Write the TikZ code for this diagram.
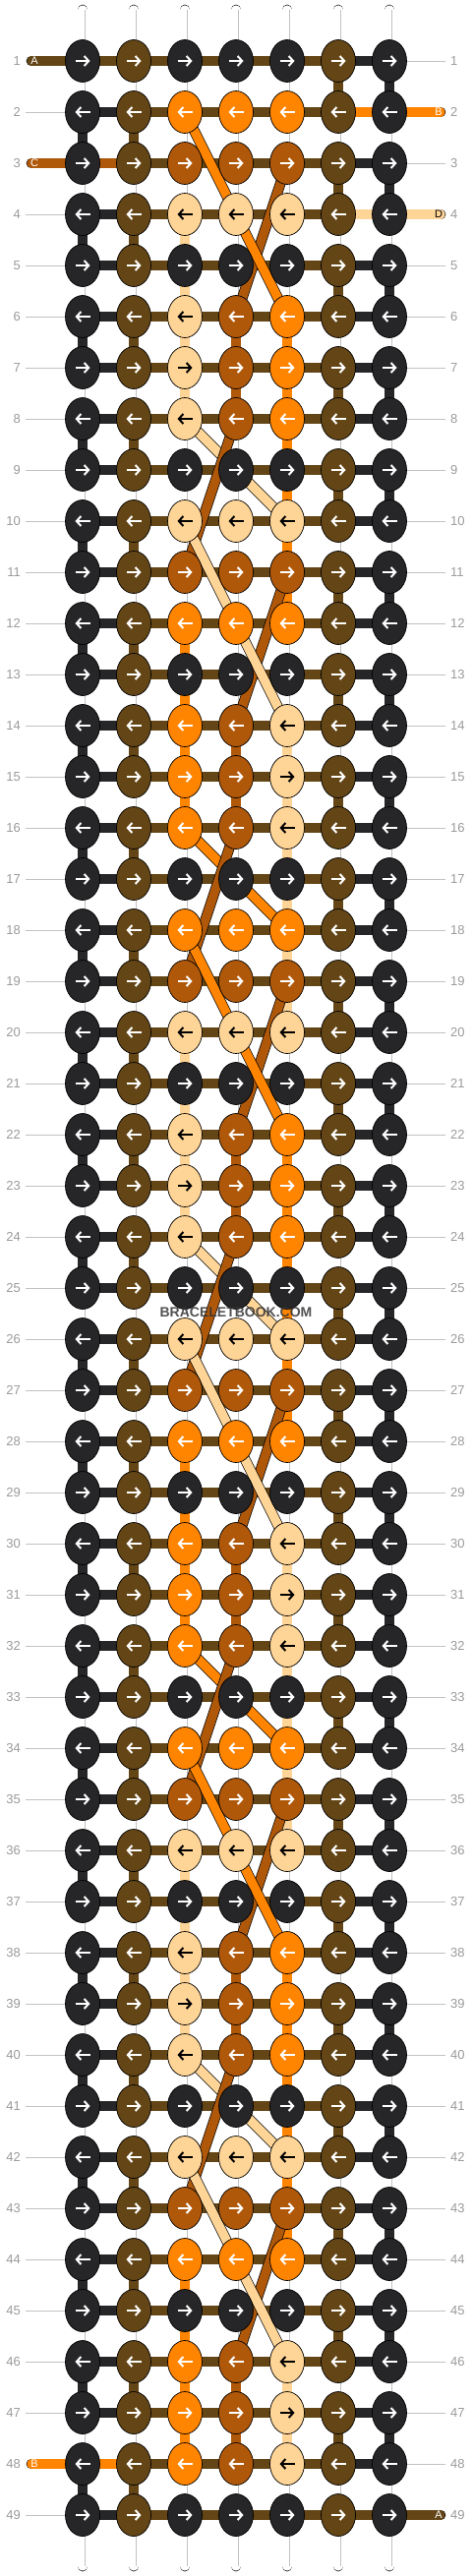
\documentclass[tikz,border=0pt]{standalone}
\usepackage{fontspec}
\setmainfont{Liberation Sans}
\usetikzlibrary{shapes.geometric, arrows.meta}
\definecolor{knotK}{HTML}{262628}
\definecolor{knotN}{HTML}{634516}
\definecolor{knotR}{HTML}{B0580A}
\definecolor{knotO}{HTML}{FF8400}
\definecolor{knotP}{HTML}{FFD597}
\definecolor{rowgray}{HTML}{9A9A9A}
\definecolor{linegray}{HTML}{C2C2C2}
\tikzstyle{knot} = [ellipse, minimum width=35pt, minimum height=43pt, inner sep=0pt, draw=black, line width=0.7pt]
\tikzstyle{strand} = [draw=black, line width=0.7pt, double distance=9.3pt]
\tikzstyle{warp} = [strand, double=white]
\tikzstyle{warpline} = [draw=linegray, line width=0.7pt]
\tikzstyle{pointer} = [line width=2pt, -{Straight Barb[length=4.5pt,width=10pt]}]
\tikzstyle{rownum} = [text=rowgray, font=\fontsize{13}{13}\selectfont, inner sep=3pt]
\tikzstyle{tag} = [font=\fontsize{11}{11}\selectfont, inner sep=0pt]
\tikzstyle{guide} = [draw=linegray, line width=0.8pt]
\pgfdeclarelayer{strings}
\pgfdeclarelayer{diagonals}
\pgfsetlayers{strings,diagonals,main}
%middle knot colours, period 16
\newcommand\setmids[3]{\def\ca{#1}\def\cb{#2}\def\cc{#3}}
\newcommand\midrow[1]{\ifcase#1 \setmids KKK\or \setmids OOO\or \setmids RRR\or \setmids PPP\or \setmids KKK\or \setmids PRO\or \setmids PRO\or \setmids PRO\or \setmids KKK\or \setmids PPP\or \setmids RRR\or \setmids OOO\or \setmids KKK\or \setmids ORP\or \setmids ORP\or \setmids ORP\fi}
%piece of string between two knots, W = white warp
\newcommand\strandseg[3]{\if W#1\draw[warp] (#2.center) -- (#3.center); \draw[warpline] ([xshift=2.5pt]#2.center) -- ([xshift=2.5pt]#3.center);\else\draw[strand, double=knot#1] (#2.center) -- (#3.center);\fi}
\begin{document}
\begin{tikzpicture}[x=1pt, y=-1pt]
\useasboundingbox (0,0) rectangle (480,2620);
%knots
\foreach \r in {1,...,49}{
  \pgfmathtruncatemacro\m{mod(\r-1,16)}
  \midrow{\m}
  \pgfmathsetmacro\y{62+(\r-1)*52}
  \foreach \c/\col in {1/K,2/N,3/\ca,4/\cb,5/\cc,6/N,7/K}{
    \pgfmathsetmacro\x{84+(\c-1)*52}
    \node[knot, fill=knot\col] (k\r-\c) at (\x,\y) {};
    \if P\col \def\ac{black}\else\def\ac{white}\fi
    \ifodd\r\relax \draw[pointer, \ac] ([xshift=-7.5pt]k\r-\c.center) -- ([xshift=7.5pt]k\r-\c.center);
    \else \draw[pointer, \ac] ([xshift=7.5pt]k\r-\c.center) -- ([xshift=-7.5pt]k\r-\c.center);\fi
  }
  \node[rownum, anchor=east] (ln\r) at (24,\y) {\r};
  \node[rownum, anchor=west] (rn\r) at (455,\y) {\r};
}
\begin{pgfonlayer}{strings}
%rows
\foreach \r in {1,...,49}{
  \def\hl{K}\def\hr{K}
  \ifnum\r=1 \def\hl{N}\fi \ifnum\r=3 \def\hl{R}\fi \ifnum\r=48 \def\hl{O}\fi
  \ifnum\r=2 \def\hr{O}\fi \ifnum\r=4 \def\hr{P}\fi \ifnum\r=49 \def\hr{N}\fi
  \strandseg{\hl}{k\r-1}{k\r-2}
  \foreach \c [evaluate=\c as \d using int(\c+1)] in {2,...,5}{\strandseg{N}{k\r-\c}{k\r-\d}}
  \strandseg{\hr}{k\r-6}{k\r-7}
  \ifnum\r=1 \else\ifnum\r=3 \else\ifnum\r=48 \else \draw[guide, shorten <=2pt] (ln\r.east) -- (k\r-1);\fi\fi\fi
  \ifnum\r=2 \else\ifnum\r=4 \else\ifnum\r=49 \else \draw[guide, shorten >=2pt] (k\r-7) -- (rn\r.west);\fi\fi\fi
}
%columns
\foreach \r in {1,...,48}{
  \pgfmathtruncatemacro\m{mod(\r-1,16)}
  \pgfmathtruncatemacro\n{\r+1}
  \ifodd\r\relax \def\va{W}\def\vb{W}\def\vf{N}\def\vg{K}\else \def\va{K}\def\vb{N}\def\vf{W}\def\vg{W}\fi
  \edef\vc{\ifcase\m W\or W\or W\or P\or P\or P\or P\or W\or W\or W\or W\or O\or O\or O\or O\or W\fi}
  \edef\vd{\ifcase\m W\or W\or W\or W\or W\or R\or R\or W\or W\or W\or W\or W\or W\or R\or R\or W\fi}
  \edef\ve{\ifcase\m P\or P\or P\or W\or W\or O\or O\or O\or O\or O\or O\or W\or W\or P\or P\or P\fi}
  \ifnum\r<4 \def\ve{W}\fi \ifnum\r=48 \def\ve{W}\fi
  \strandseg{\va}{k\r-1}{k\n-1}
  \strandseg{\vb}{k\r-2}{k\n-2}
  \strandseg{\vc}{k\r-3}{k\n-3}
  \strandseg{\vd}{k\r-4}{k\n-4}
  \strandseg{\ve}{k\r-5}{k\n-5}
  \strandseg{\vf}{k\r-6}{k\n-6}
  \strandseg{\vg}{k\r-7}{k\n-7}
}
%loose ends
\foreach \c in {1,...,7}{
  \pgfmathsetmacro\x{84+(\c-1)*52}
  \coordinate (top\c) at (\x,10);
  \coordinate (bot\c) at (\x,2610);
  \draw[warp, line cap=round] (top\c) -- (k1-\c.center);
  \draw[warpline] ([xshift=2.5pt]top\c) -- ([xshift=2.5pt]k1-\c.center);
  \draw[warp, line cap=round] (k49-\c.center) -- (bot\c);
  \draw[warpline] ([xshift=2.5pt]k49-\c.center) -- ([xshift=2.5pt]bot\c);
}
\foreach \r/\col/\lab/\tc in {1/N/A/white, 3/R/C/white, 48/O/B/white}{
  \coordinate (lend\r) at (32,62+\r*52-52);
  \draw[strand, double=knot\col, line cap=round] (lend\r) -- (k\r-1.center);
  \node[tag, text=\tc] (ltag\r) at (35,62+\r*52-52) {\lab};
}
\foreach \r/\col/\lab/\tc in {2/O/B/white, 4/P/D/black, 49/N/A/white}{
  \coordinate (rend\r) at (448,62+\r*52-52);
  \draw[strand, double=knot\col, line cap=round] (k\r-7.center) -- (rend\r);
  \node[tag, text=\tc] (rtag\r) at (446,62+\r*52-52) {\lab};
}
\end{pgfonlayer}
\begin{pgfonlayer}{diagonals}
%short light diagonals
\foreach \s/\col [evaluate=\s as \e using int(\s+2)] in {8/P,16/O,24/P,32/O,40/P}{
  \draw[strand, double=knot\col] (k\s-3.center) -- (k\e-5.center);
}
%rust diagonals
\foreach \s [evaluate=\s as \e using int(\s+3)] in {3,11,19,27,35,43}{
  \draw[strand, double=knotR] (k\s-5.center) -- (k\e-4.center);
}
\foreach \s [evaluate=\s as \e using int(\s+3)] in {8,16,24,32,40}{
  \draw[strand, double=knotR] (k\s-4.center) -- (k\e-3.center);
}
%long light diagonals
\foreach \s/\col [evaluate=\s as \e using int(\s+4)] in {2/O,10/P,18/O,26/P,34/O,42/P}{
  \draw[strand, double=knot\col] (k\s-3.center) -- (k\e-5.center);
}
\end{pgfonlayer}
\node[font=\bfseries\fontsize{14}{14}\selectfont, text=black!80, text opacity=0.85] (mark) at (240,1335) {BRACELETBOOK.COM};
\end{tikzpicture}
\end{document}
